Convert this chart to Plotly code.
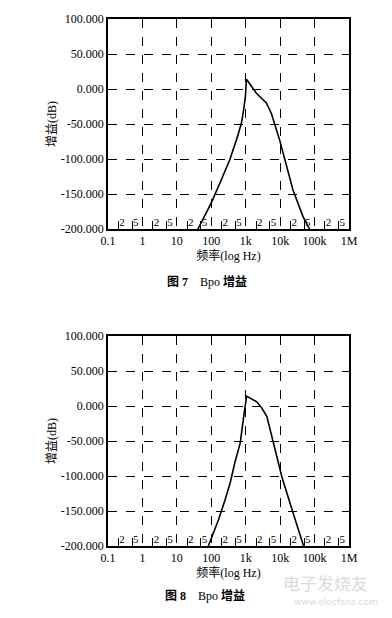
import plotly.graph_objects as go

# ---- data ----
freq7 = [41, 99, 176, 344, 537, 750, 870, 980, 1050, 2040, 3980, 5560, 9680, 23500, 45800, 71600]
gain7 = [-200, -163, -135, -101, -73, -49, -30, -11, 14, -6, -20, -35, -73, -144, -182, -200]

freq8 = [82, 161, 252, 353, 494, 692, 923, 1070, 2090, 2950, 4120, 5760, 11200, 27600, 48000]
gain8 = [-200, -163, -134, -110, -79, -53, -6, 14, 6, -3, -15, -44, -101, -163, -200]

x_tickvals = [0.1, 1, 10, 100, 1000, 10000, 100000, 1000000]
x_ticktext = ["0.1", "1", "10", "100", "1k", "10k", "100k", "1M"]
y_tickvals = [100, 50, 0, -50, -100, -150, -200]
y_ticktext = ["100.000", "50.000", "0.000", "-50.000", "-100.000", "-150.000", "-200.000"]
decades = [0.1, 1, 10, 100, 1000, 10000, 100000]
minor_mult = [2, 5]

minor_vals = [d * m for d in decades for m in minor_mult]
minor_text = [str(m) for d in decades for m in minor_mult]

SERIF = "Liberation Serif, Noto Sans CJK SC"
CJK = "Noto Sans CJK SC"

W, H = 392, 618
OFF = 8  # page body margin


def px(v):
    return (v - OFF) / W


def py(v):
    return 1 - (v - OFF) / H


fig = go.Figure()

for xa, ya, fx, gy in [("x", "y", freq7, gain7), ("x2", "y2", freq8, gain8)]:
    fig.add_trace(go.Scatter(x=fx, y=gy, mode="lines", xaxis=xa, yaxis=ya,
                             line=dict(color="black", width=1.6), showlegend=False,
                             hoverinfo="skip"))
    fig.add_trace(go.Scatter(x=[v * 1.06 for v in minor_vals], y=[-200] * len(minor_vals),
                             mode="text", text=minor_text, textposition="top right",
                             textfont=dict(family=SERIF, size=11, color="black"),
                             xaxis=xa, yaxis=ya, showlegend=False, hoverinfo="skip",
                             cliponaxis=False))

XDOM = [px(108), px(349)]


def xaxis_cfg(anchor):
    return dict(
        type="log", range=[-1, 6], anchor=anchor, automargin=False,
        domain=XDOM,
        tickvals=x_tickvals, ticktext=x_ticktext, ticks="",
        tickfont=dict(family=SERIF, size=12, color="black"),
        showgrid=True, gridcolor="black", griddash="dash", gridwidth=1,
        showline=True, linecolor="black", linewidth=1.5, mirror=True,
        zeroline=False,
        title=dict(text="频率(log Hz)", font=dict(family=SERIF, size=12, color="black"),
                   standoff=4),
    )


def minor_axis_cfg(anchor, over):
    return dict(
        type="log", range=[-1, 6], anchor=anchor, overlaying=over, side="bottom",
        automargin=False, domain=XDOM,
        tickvals=minor_vals, showticklabels=False,
        ticks="inside", ticklen=8, tickwidth=1, tickcolor="black",
        showgrid=False, showline=False, zeroline=False,
    )


def yaxis_cfg(anchor, dom):
    return dict(
        range=[-200, 100], anchor=anchor, domain=dom, automargin=False,
        tickvals=y_tickvals, ticktext=y_ticktext, ticks="",
        tickfont=dict(family=SERIF, size=12, color="black"),
        showgrid=True, gridcolor="black", griddash="dash", gridwidth=1,
        showline=True, linecolor="black", linewidth=1.5, mirror=True,
        zeroline=False,
        title=dict(text="增益(dB)", font=dict(family=SERIF, size=12, color="black"),
                   standoff=2),
    )


# invisible traces so the overlay tick axes are drawn
fig.add_trace(go.Scatter(x=[minor_vals[0]], y=[-200], xaxis="x3", yaxis="y", mode="markers",
                         marker=dict(opacity=0), showlegend=False, hoverinfo="skip"))
fig.add_trace(go.Scatter(x=[minor_vals[0]], y=[-200], xaxis="x4", yaxis="y2", mode="markers",
                         marker=dict(opacity=0), showlegend=False, hoverinfo="skip"))


def note(text, x, y, font):
    return dict(text=text, x=px(x), y=py(y), xref="paper", yref="paper",
                xanchor="center", yanchor="middle", showarrow=False, font=font)


fig.update_layout(
    width=W, height=H,
    margin=dict(l=0, r=0, t=0, b=0, autoexpand=False),
    paper_bgcolor="white", plot_bgcolor="white",
    xaxis=xaxis_cfg("y"),
    yaxis=yaxis_cfg("x", [py(229), py(19)]),
    xaxis2=xaxis_cfg("y2"),
    yaxis2=yaxis_cfg("x2", [py(546), py(336)]),
    xaxis3=minor_axis_cfg("y", "x"),
    xaxis4=minor_axis_cfg("y2", "x2"),
    annotations=[
        note("<b>图 7</b>    Bpo <b>增益</b>", 207, 282,
             dict(family=SERIF, size=12, color="black")),
        note("<b>图 8</b>    Bpo <b>增益</b>", 205, 595,
             dict(family=SERIF, size=12, color="black")),
        note("电子发烧友", 325, 582,
             dict(family=CJK, size=17, color="rgba(180,180,180,0.5)")),
        note("www.elecfans.com", 336, 602,
             dict(family="DejaVu Sans", size=9, color="rgba(180,180,180,0.5)")),
    ],
)

fig.write_html("out.html")
